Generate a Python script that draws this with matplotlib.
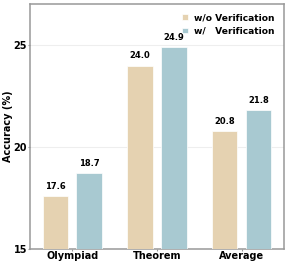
import numpy as np
import matplotlib.pyplot as plt

categories = ["Olympiad", "Theorem", "Average"]
wo_verif = [17.6, 24.0, 20.8]
w_verif = [18.7, 24.9, 21.8]
series_labels = ["w/o Verification", "w/   Verification"]
yticks = [15, 20, 25]

col_wo = "#E5D2B1"
col_w = "#A8C9D1"

fig, ax = plt.subplots(figsize=(2.99, 2.62), dpi=100)
x = np.arange(len(categories))
w = 0.3
b1 = ax.bar(x - 0.2, wo_verif, w, color=col_wo, edgecolor="white", linewidth=0.5,
            label=series_labels[0], zorder=3)
b2 = ax.bar(x + 0.2, w_verif, w, color=col_w, edgecolor="white", linewidth=0.5,
            label=series_labels[1], zorder=3)

for bars, vals in [(b1, wo_verif), (b2, w_verif)]:
    for r, v in zip(bars, vals):
        ax.text(r.get_x() + r.get_width() / 2, v + 0.25, f"{v:.1f}",
                ha="center", va="bottom", fontsize=6, fontweight="bold")

ax.set_xlim(-0.5, 2.5)
ax.set_ylim(15, 27)
ax.set_yticks(yticks)
ax.set_xticks(x)
ax.set_xticklabels(categories, fontweight="bold", fontsize=7)
for t in ax.get_yticklabels():
    t.set_fontweight("bold")
    t.set_fontsize(7)
ax.set_ylabel("Accuracy (%)", fontweight="bold", fontsize=7)
ax.yaxis.set_label_coords(-0.068, 0.5)
ax.grid(axis="y", color="#eeeeee", linewidth=0.8, zorder=0)
for s in ax.spines.values():
    s.set_color("#999999")
    s.set_linewidth(1.1)
ax.tick_params(length=1.5, pad=0.5, color="#999999")

leg = ax.legend(loc="upper right", frameon=False, prop={"weight": "bold", "size": 6.6},
                handlelength=0.6, handleheight=0.6, handletextpad=0.7, labelspacing=0.45,
                borderaxespad=0.6)

plt.subplots_adjust(left=0.1, right=0.95, top=0.983, bottom=0.051)
plt.savefig("out.png", dpi=100)
